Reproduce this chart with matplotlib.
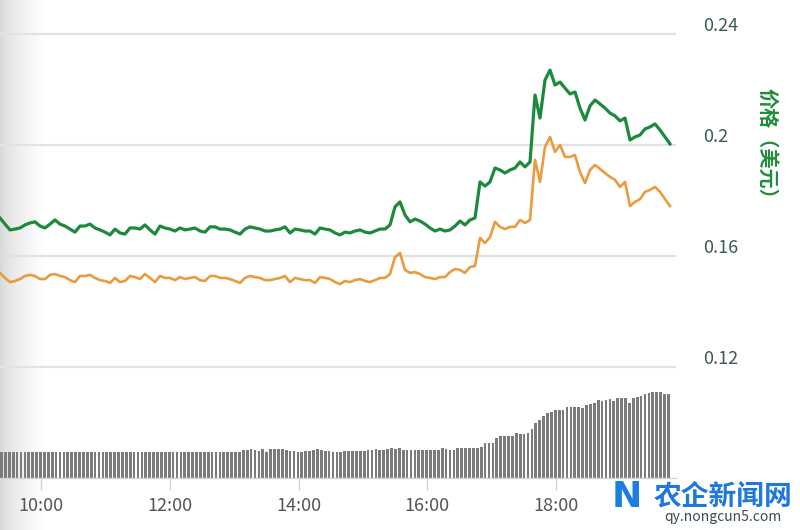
import numpy as np
import matplotlib
matplotlib.use("Agg")
import matplotlib.pyplot as plt
from matplotlib.transforms import ScaledTranslation
from matplotlib.colors import LinearSegmentedColormap

plt.rcParams['font.family'] = ['Noto Sans CJK SC', 'DejaVu Sans']

# ---------------- data ----------------
# time span of the price series and of the volume bars (hours of day)
line_start, line_end = 9.3685, 19.764
bar_start, bar_end = 9.392, 19.739

price_green = [
    0.1737, 0.1715, 0.1694, 0.1697, 0.1701, 0.1712, 0.1719, 0.1723, 0.1708, 0.1701,
    0.1715, 0.1730, 0.1715, 0.1708, 0.1697, 0.1686, 0.1708, 0.1708, 0.1715, 0.1701,
    0.1694, 0.1686, 0.1676, 0.1697, 0.1683, 0.1679, 0.1701, 0.1701, 0.1697, 0.1712,
    0.1694, 0.1679, 0.1708, 0.1701, 0.1697, 0.1690, 0.1701, 0.1694, 0.1697, 0.1701,
    0.1690, 0.1686, 0.1705, 0.1705, 0.1697, 0.1697, 0.1694, 0.1686, 0.1679, 0.1697,
    0.1705, 0.1701, 0.1697, 0.1690, 0.1690, 0.1694, 0.1697, 0.1705, 0.1683, 0.1697,
    0.1694, 0.1690, 0.1690, 0.1679, 0.1701, 0.1697, 0.1694, 0.1683, 0.1676, 0.1686,
    0.1683, 0.1690, 0.1694, 0.1686, 0.1683, 0.1690, 0.1697, 0.1697, 0.1712, 0.1777,
    0.1795, 0.1748, 0.1723, 0.1733, 0.1726, 0.1715, 0.1701, 0.1690, 0.1697, 0.1690,
    0.1694, 0.1708, 0.1726, 0.1712, 0.1730, 0.1737, 0.1867, 0.1852, 0.1867, 0.1917,
    0.1910, 0.1899, 0.1910, 0.1917, 0.1939, 0.1921, 0.1939, 0.2180, 0.2097, 0.2234,
    0.2270, 0.2216, 0.2227, 0.2205, 0.2184, 0.2191, 0.2133, 0.2090, 0.2141, 0.2162,
    0.2148, 0.2133, 0.2115, 0.2105, 0.2087, 0.2097, 0.2018, 0.2029, 0.2036, 0.2058,
    0.2065, 0.2076, 0.2054, 0.2029, 0.2004,
]

price_orange = [
    0.1539, 0.1521, 0.1506, 0.1510, 0.1517, 0.1528, 0.1532, 0.1528, 0.1517, 0.1517,
    0.1532, 0.1535, 0.1528, 0.1524, 0.1513, 0.1506, 0.1528, 0.1528, 0.1532, 0.1521,
    0.1513, 0.1510, 0.1503, 0.1521, 0.1506, 0.1510, 0.1528, 0.1524, 0.1517, 0.1535,
    0.1521, 0.1506, 0.1528, 0.1521, 0.1521, 0.1513, 0.1524, 0.1517, 0.1521, 0.1524,
    0.1513, 0.1510, 0.1528, 0.1528, 0.1521, 0.1521, 0.1517, 0.1510, 0.1503, 0.1521,
    0.1528, 0.1524, 0.1521, 0.1513, 0.1513, 0.1517, 0.1521, 0.1528, 0.1506, 0.1521,
    0.1517, 0.1513, 0.1513, 0.1503, 0.1524, 0.1521, 0.1517, 0.1506, 0.1499, 0.1510,
    0.1506, 0.1513, 0.1517, 0.1510, 0.1506, 0.1513, 0.1521, 0.1521, 0.1535, 0.1596,
    0.1611, 0.1550, 0.1539, 0.1542, 0.1535, 0.1524, 0.1521, 0.1517, 0.1524, 0.1524,
    0.1542, 0.1553, 0.1550, 0.1539, 0.1560, 0.1564, 0.1665, 0.1647, 0.1668, 0.1723,
    0.1705, 0.1697, 0.1705, 0.1705, 0.1730, 0.1719, 0.1730, 0.1946, 0.1867, 0.1993,
    0.2029, 0.1975, 0.2000, 0.1957, 0.1957, 0.1964, 0.1903, 0.1863, 0.1910, 0.1928,
    0.1914, 0.1899, 0.1885, 0.1874, 0.1849, 0.1867, 0.1780, 0.1795, 0.1805, 0.1831,
    0.1838, 0.1849, 0.1831, 0.1805, 0.1780,
]

volume = [26] * 62 + [
    28, 28, 29, 28, 27, 29, 26, 29, 29, 29,
    29, 28, 27, 27, 26, 26, 27, 27, 28, 29,
    28, 27, 27, 26, 26, 26, 27, 27, 27, 27,
    27, 27, 28, 28, 29, 28, 28, 29, 30, 29,
    30, 28, 28, 28, 28, 28, 28, 28, 28, 28,
    28, 30, 29, 28, 28, 30, 30, 30, 30, 30,
    30, 31, 35, 35, 35, 40, 42, 42, 42, 42,
    45, 44, 44, 45, 49, 55, 58, 62, 65, 66,
    68, 68, 68, 71, 71, 71, 71, 70, 73, 74,
    75, 78, 77, 78, 79, 77, 80, 80, 80, 75,
    80, 81, 82, 84, 85, 86, 86, 86, 84, 84,
]

price_ticks = [0.12, 0.16, 0.2, 0.24]
price_tick_labels = ['0.12', '0.16', '0.2', '0.24']
time_ticks = [10, 12, 14, 16, 18]
time_tick_labels = ['10:00', '12:00', '14:00', '16:00', '18:00']
y_label = '价格（美元）'
wm_title = '农企新闻网'
wm_url = 'qy.nongcun5.com'

# ---------------- figure ----------------
W, H = 800, 530
fig = plt.figure(figsize=(W / 100, H / 100), dpi=100)
fig.patch.set_facecolor('white')

# soft grey shading at the left edge of the screenshot
gax = fig.add_axes([0, 0, 45 / W, 1], zorder=0)
grad = np.linspace(0, 1, 100)[None, :] ** 0.6
gax.imshow(grad, aspect='auto',
           cmap=LinearSegmentedColormap.from_list('sh', ['#d6d6d6', '#ffffff']))
gax.axis('off')

xmin, xmax = 9.3685, 19.857
ax_rect = [0, 52 / H, 676 / W, 448 / H]
ymin, ymax = 0.08, 0.24 + 4 * 0.16 / 444

# volume bars
vax = fig.add_axes(ax_rect, zorder=1)
vax.set_facecolor('none')
t_bar = np.linspace(bar_start, bar_end, len(volume))
vax.bar(t_bar, volume, width=0.041, color='#7b7b7b', align='center')
vax.set_xlim(xmin, xmax)
vax.set_ylim(0, 448)
vax.axis('off')

# price lines
ax = fig.add_axes(ax_rect, zorder=2)
ax.set_facecolor('none')
t_line = np.linspace(line_start, line_end, len(price_green))
ax.plot(t_line, price_orange, color='#e99b3e', lw=1.9, solid_joinstyle='round')
ax.plot(t_line, price_green, color='#1c8a3c', lw=2.3, solid_joinstyle='round')
ax.set_xlim(xmin, xmax)
ax.set_ylim(ymin, ymax)

for s in ['top', 'left', 'right']:
    ax.spines[s].set_visible(False)
ax.spines['bottom'].set_color('#cfd3db')
ax.spines['bottom'].set_linewidth(1.0)

ax.set_yticks(price_ticks)
ax.set_yticklabels(price_tick_labels)
ax.yaxis.tick_right()
ax.yaxis.grid(True, color='#e2e2e2', lw=1.6)
ax.set_axisbelow(True)
ax.tick_params(axis='y', length=0, pad=19.5, labelsize=13, labelcolor='#3a5d4b')
off = ScaledTranslation(0, 10 / 100, fig.dpi_scale_trans)
for lab in ax.get_yticklabels():
    lab.set_transform(lab.get_transform() + off)

ax.set_xticks(time_ticks)
ax.set_xticklabels(time_tick_labels)
ax.tick_params(axis='x', direction='out', length=8.5, width=1.0, color='#cfd3db',
               pad=5, labelsize=13, labelcolor='#555555')

fig.text(767 / W, 1 - 148 / H, y_label, rotation=270, ha='center', va='center',
         color='#1f8c3b', fontsize=14.5, fontweight='bold')

# watermark
fig.text(627 / W, 1 - 497 / H, 'N', ha='center', va='center', color='#1a7fe0',
         fontsize=26, fontweight='bold', family=['DejaVu Sans'])
fig.text(723 / W, 1 - 496 / H, wm_title, ha='center', va='center', color='#1f78dc',
         fontsize=20, fontweight='bold')
fig.text(723 / W, 1 - 517 / H, wm_url, ha='center', va='center', color='#3b4856',
         fontsize=10)

fig.savefig('out.png', dpi=100)
